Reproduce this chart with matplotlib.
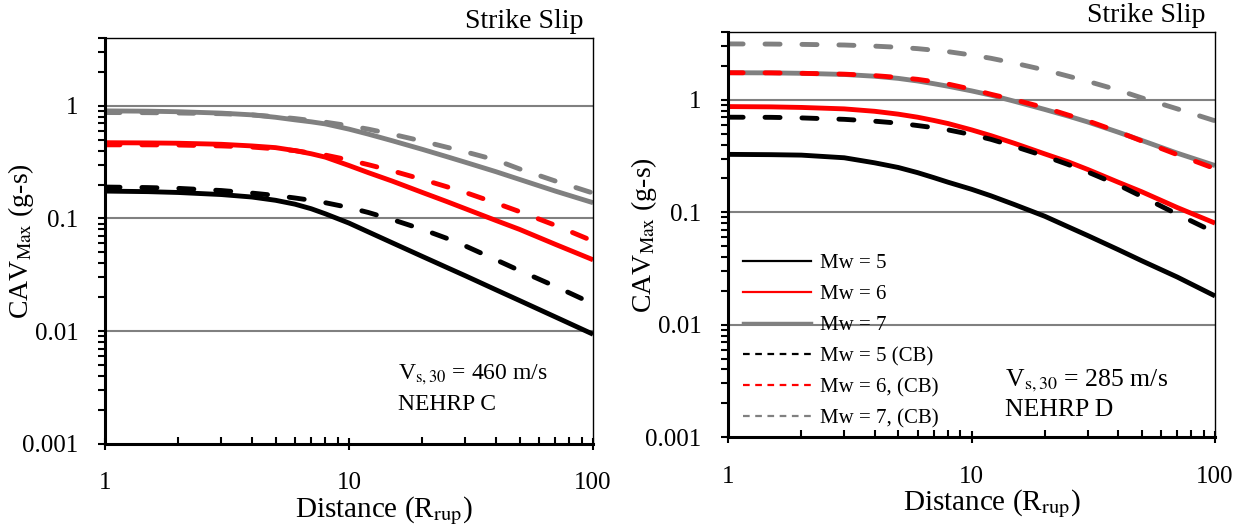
import numpy as np
import matplotlib
matplotlib.use("Agg")
import matplotlib.pyplot as plt
from matplotlib.lines import Line2D
from matplotlib.ticker import FuncFormatter, LogLocator, NullFormatter

plt.rcParams['font.family'] = ['Liberation Serif', 'DejaVu Serif']
plt.rcParams['mathtext.fontset'] = 'stix'

# distance (R_rup)
dist = [1, 1.5, 2, 3, 4, 5, 6, 7, 8, 10, 12, 15, 20, 25, 30, 40, 50, 70, 100]

# left panel, Vs30 = 460 m/s (NEHRP C)
c_mw5 = [0.175, 0.173, 0.170, 0.163, 0.155, 0.145, 0.134, 0.122, 0.110, 0.091,
         0.076, 0.061, 0.046, 0.037, 0.031, 0.0233, 0.0187, 0.0134, 0.0094]
c_mw6 = [0.47, 0.468, 0.465, 0.455, 0.44, 0.425, 0.40, 0.375, 0.35, 0.295,
         0.255, 0.215, 0.17, 0.142, 0.122, 0.096, 0.08, 0.059, 0.043]
c_mw7 = [0.90, 0.895, 0.885, 0.86, 0.83, 0.79, 0.75, 0.72, 0.69, 0.62,
         0.56, 0.49, 0.41, 0.355, 0.315, 0.26, 0.222, 0.175, 0.138]
c_mw5_cb = [0.19, 0.188, 0.185, 0.177, 0.168, 0.160, 0.152, 0.145, 0.138, 0.125,
            0.113, 0.098, 0.080, 0.067, 0.057, 0.043, 0.0345, 0.025, 0.0175]
c_mw6_cb = [0.45, 0.45, 0.448, 0.44, 0.43, 0.415, 0.40, 0.38, 0.365, 0.33,
            0.30, 0.265, 0.222, 0.192, 0.17, 0.137, 0.115, 0.087, 0.063]
c_mw7_cb = [0.87, 0.868, 0.862, 0.85, 0.83, 0.80, 0.77, 0.74, 0.715, 0.665,
            0.62, 0.56, 0.485, 0.43, 0.39, 0.33, 0.275, 0.215, 0.168]

# right panel, Vs30 = 285 m/s (NEHRP D)
d_mw5 = [0.327, 0.325, 0.322, 0.305, 0.275, 0.25, 0.225, 0.203, 0.185, 0.16,
         0.14, 0.117, 0.092, 0.074, 0.062, 0.0465, 0.037, 0.0265, 0.018]
d_mw6 = [0.87, 0.865, 0.855, 0.83, 0.79, 0.745, 0.70, 0.655, 0.615, 0.54,
         0.48, 0.41, 0.33, 0.28, 0.24, 0.185, 0.152, 0.11, 0.08]
d_mw7 = [1.74, 1.735, 1.72, 1.68, 1.62, 1.55, 1.47, 1.39, 1.32, 1.20,
         1.10, 0.97, 0.82, 0.715, 0.635, 0.515, 0.435, 0.335, 0.26]
d_mw5_cb = [0.70, 0.698, 0.69, 0.67, 0.645, 0.62, 0.59, 0.565, 0.54, 0.49,
            0.445, 0.385, 0.315, 0.265, 0.228, 0.175, 0.138, 0.096, 0.066]
d_mw6_cb = [1.74, 1.735, 1.72, 1.69, 1.64, 1.58, 1.52, 1.45, 1.38, 1.24,
            1.12, 1.0, 0.85, 0.73, 0.65, 0.52, 0.43, 0.325, 0.244]
d_mw7_cb = [3.14, 3.13, 3.11, 3.07, 3.0, 2.93, 2.85, 2.76, 2.68, 2.5,
            2.34, 2.12, 1.84, 1.62, 1.46, 1.22, 1.04, 0.83, 0.65]

labels = ['Mw = 5', 'Mw = 6', 'Mw = 7', 'Mw = 5 (CB)', 'Mw = 6, (CB)', 'Mw = 7, (CB)']
colors = ['black', '#ff0000', '#808080']

fig = plt.figure(figsize=(12.42, 5.26), dpi=100)
ax1 = fig.add_axes([0.0845, 0.156, 0.393, 0.772])
ax2 = fig.add_axes([0.5862, 0.169, 0.3921, 0.770])


def draw_panel(ax, solid, dashed, vs_text, site_text, tx, ty, xlab_x, note_size):
    for y, c in zip(solid, colors):
        ax.plot(dist, y, color=c, lw=3.5, solid_capstyle='butt')
    for y, c in zip(dashed, colors):
        ax.plot(dist, y, color=c, lw=3.5, dashes=(3.1, 4.5), dash_capstyle='round')
    ax.set_xscale('log')
    ax.set_yscale('log')
    ax.set_xlim(1, 100)
    ax.set_ylim(0.001, 4)
    for g in [0.01, 0.1, 1]:
        ax.axhline(g, color='#808080', lw=1.5, zorder=0)
    fmt = FuncFormatter(lambda v, p: '{:g}'.format(v))
    ax.xaxis.set_major_formatter(fmt)
    ax.yaxis.set_major_formatter(fmt)
    ax.yaxis.set_major_locator(LogLocator(base=10, numticks=10))
    ax.yaxis.set_minor_locator(LogLocator(base=10, subs=np.arange(2, 10), numticks=10))
    ax.yaxis.set_minor_formatter(NullFormatter())
    ax.xaxis.set_minor_formatter(NullFormatter())
    ax.tick_params(axis='y', which='both', direction='out', length=5, width=1.5,
                   labelsize=18, pad=14)
    ax.tick_params(axis='x', which='major', direction='inout', length=9, width=1.5,
                   labelsize=18, pad=16)
    ax.tick_params(axis='x', which='minor', direction='in', length=5, width=1.5)
    for s in ['left', 'bottom']:
        ax.spines[s].set_linewidth(2.2)
    for s in ['top', 'right']:
        ax.spines[s].set_linewidth(1.0)
    ax.set_xlabel('Distance (R$_{\\mathrm{rup}}$)', fontsize=21)
    ax.set_ylabel('CAV$_{\\mathrm{Max}}$ (g-s)', fontsize=20)
    ax.xaxis.set_label_coords(xlab_x, -0.125)
    ax.yaxis.set_label_coords(-0.142, 0.5)
    ax.text(0.98, 1.01, 'Strike Slip', transform=ax.transAxes, ha='right',
            va='bottom', fontsize=20)
    ax.text(tx, ty, vs_text, transform=ax.transAxes, ha='left', va='center',
            fontsize=note_size)
    ax.text(tx, ty - 0.074, site_text, transform=ax.transAxes, ha='left',
            va='center', fontsize=note_size)


draw_panel(ax1, [c_mw5, c_mw6, c_mw7], [c_mw5_cb, c_mw6_cb, c_mw7_cb],
           'V$_{\\mathrm{s,30}}$ = 460 m/s', 'NEHRP C', 0.60, 0.17, 0.572, 17)
draw_panel(ax2, [d_mw5, d_mw6, d_mw7], [d_mw5_cb, d_mw6_cb, d_mw7_cb],
           'V$_{\\mathrm{s,30}}$ = 285 m/s', 'NEHRP D', 0.569, 0.14, 0.542, 18.5)

handles = []
for i, lab in enumerate(labels):
    ls = '-' if i < 3 else (0, (3, 2.5))
    handles.append(Line2D([0], [0], color=colors[i % 3], lw=1.6 if i != 2 else 2.5,
                          linestyle=ls, label=lab))
ax2.legend(handles=handles, loc='lower left', bbox_to_anchor=(0.0, -0.015),
           frameon=False, fontsize=15, handlelength=3.3, handletextpad=0.4,
           labelspacing=0.55, borderaxespad=0.3)

fig.savefig('out.png', dpi=100)
